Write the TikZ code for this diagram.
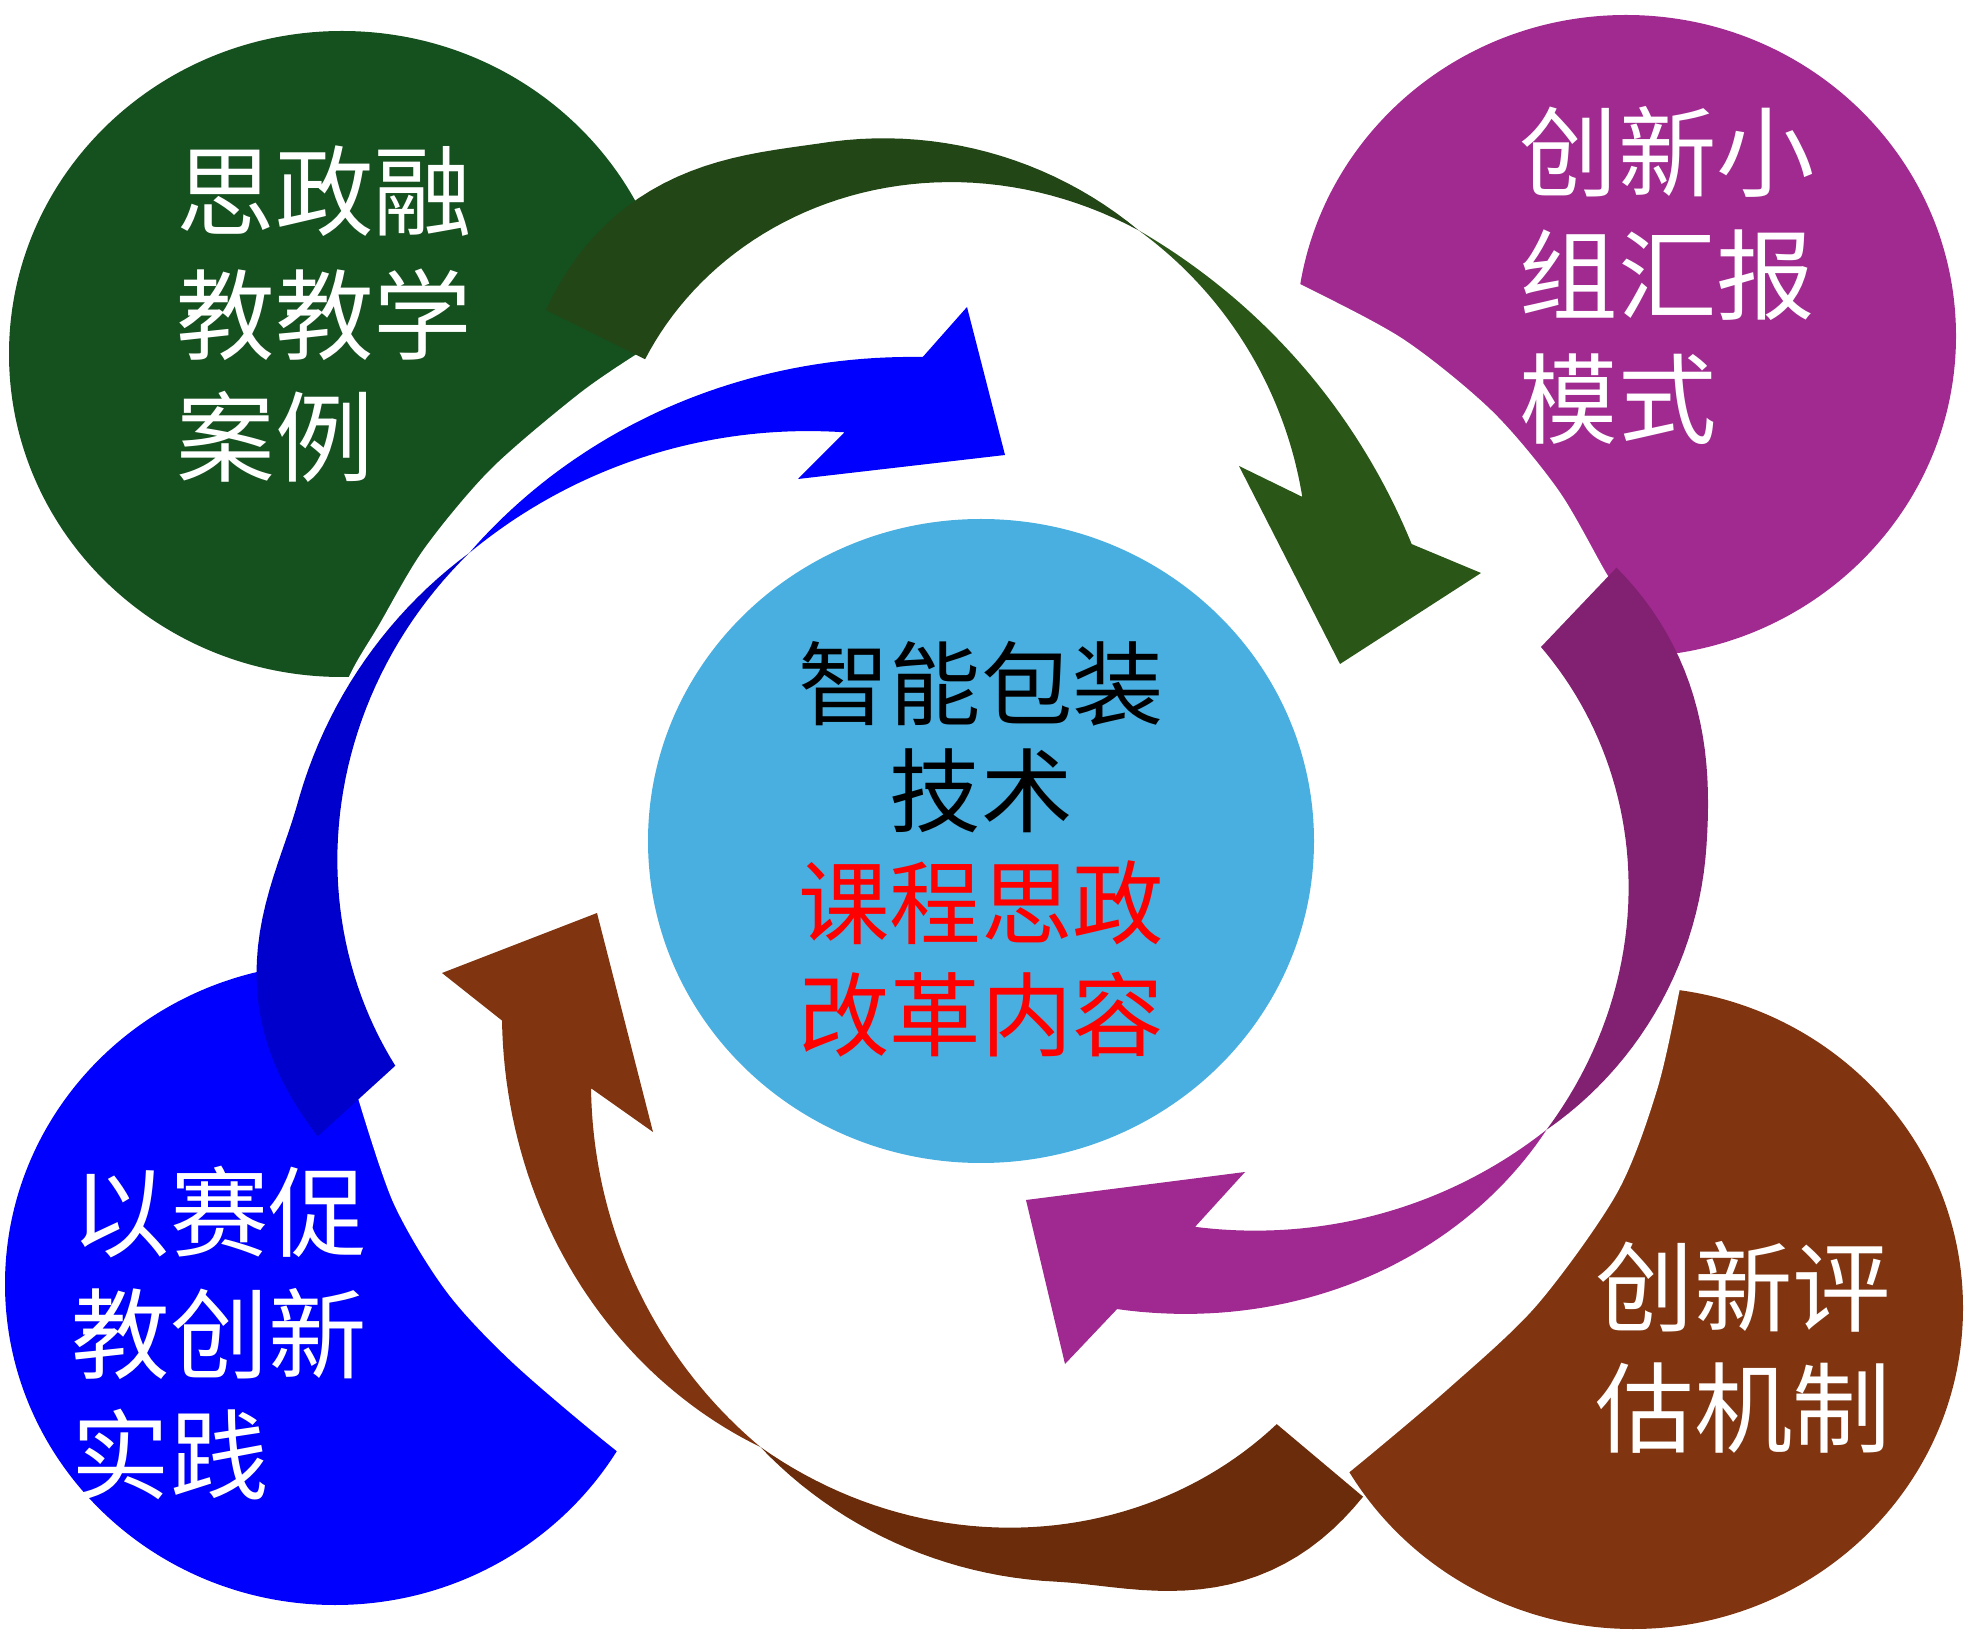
\documentclass[tikz,border=0pt]{standalone}
\usepackage{fontspec}
\newfontfamily\cjk{Noto Sans CJK SC}
\definecolor{gcirc}{RGB}{21,80,31}
\definecolor{gtail}{RGB}{34,70,22}
\definecolor{ghead}{RGB}{42,86,24}
\definecolor{pcirc}{RGB}{160,42,144}
\definecolor{ptail}{RGB}{130,33,114}
\definecolor{phead}{RGB}{160,40,145}
\definecolor{bcirc}{RGB}{0,0,255}
\definecolor{btail}{RGB}{0,0,204}
\definecolor{bhead}{RGB}{0,0,255}
\definecolor{rcirc}{RGB}{128,53,16}
\definecolor{rtail}{RGB}{106,44,10}
\definecolor{rhead}{RGB}{128,53,16}
\definecolor{ccirc}{RGB}{72,175,224}
\definecolor{redtxt}{RGB}{255,0,0}
\tikzset{
  ctext/.style={inner sep=0pt, font=\cjk\fontsize{28}{30}\selectfont, text=white, anchor=base west},
  mtext/.style={inner sep=0pt, font=\cjk\fontsize{26}{28}\selectfont, anchor=base},
  pl/.style={variable=\v, domain=0:1, samples=48},
}
\begin{document}
\begin{tikzpicture}[x=0.01cm,y=-0.01cm,
  declare function={
    Lq(\ks,\ka,\kb,\kc)=\ka*(1-\ks)*(1-2*\ks)+4*\kb*\ks*(1-\ks)+\kc*\ks*(2*\ks-1);
    Bm(\ks,\ke)=max(0,1-(\ks-\ke)*(\ks-\ke)/0.1024);
    Rf(\ks,\ka,\kb,\kc,\kd,\ke)=Lq(\ks,\ka,\kb,\kc)+\kd*Bm(\ks,\ke)*Bm(\ks,\ke);
  }]
\useasboundingbox (0,0) rectangle (1969,1634);
% corner circles
\fill[gcirc] (342,354) ellipse [x radius=333, y radius=323];
\fill[pcirc] (1626,336) ellipse [x radius=330, y radius=321];
\fill[bcirc] (335,1284) ellipse [x radius=330, y radius=321];
\fill[rcirc] (1633,1308) ellipse [x radius=330, y radius=321];
% white cuts
\fill[white] (600,300) -- plot[smooth] coordinates {(640,352) (580,393) (491,469) (424,549) (379,625) (348,679) (320,760)} -- (700,800) -- (800,250) -- cycle;
\fill[white] plot[smooth] coordinates {(1240,255) (1298,283) (1403,339) (1492,411) (1559,491) (1608,576) (1625,595)} -- (1560,660) -- (1500,700) -- (1150,700) -- (1150,250) -- cycle;
\fill[white] plot[smooth] coordinates {(1690,930) (1680,988) (1657,1090) (1617,1193) (1537,1305) (1448,1389) (1347,1474) (1320,1492)} -- (1200,1400) -- (1300,950) -- cycle;
\fill[white] (320,930) -- plot[smooth] coordinates {(355,1088) (393,1202) (446,1291) (513,1363) (618,1452) (700,1510)} -- (900,1300) -- (600,880) -- cycle;
% green arrow (centre 880,560)
\fill[gtail] plot[pl] ({880+Rf(\v,408,421,419,20,0.18)*cos(-143.2+91.3*\v)},{560+Rf(\v,408,421,419,20,0.18)*sin(-143.2+91.3*\v)})
  -- plot[pl] ({880+Lq(\v,419,364,309)*cos(-51.9-87.6*\v)},{560+Lq(\v,419,364,309)*sin(-51.9-87.6*\v)}) -- cycle;
\fill[ghead] plot[pl] ({880+Lq(\v,419,460,532)*cos(-51.9+50.2*\v)},{560+Lq(\v,419,460,532)*sin(-51.9+50.2*\v)})
  -- (1481,573) -- (1340,664) -- (1239,466)
  -- plot[pl] ({880+Lq(\v,427,424,419)*cos(-8.5-43.4*\v)},{560+Lq(\v,427,424,419)*sin(-8.5-43.4*\v)}) -- cycle;
% purple arrow (centre 1299,822)
\fill[ptail] plot[pl] ({1299+Rf(\v,402,408,395,8,0.15)*cos(-38.7+89.9*\v)},{822+Rf(\v,402,408,395,8,0.15)*sin(-38.7+89.9*\v)})
  -- plot[pl] ({1299+Lq(\v,395,332,298.6)*cos(51.2-87.1*\v)},{822+Lq(\v,395,332,298.6)*sin(51.2-87.1*\v)}) -- cycle;
\fill[phead] plot[pl] ({1299+Lq(\v,395,459,520)*cos(51.2+59.3*\v)},{822+Lq(\v,395,459,520)*sin(51.2+59.3*\v)})
  -- (1065,1364) -- (1026,1200) -- (1245,1172)
  -- plot[pl] ({1299+Lq(\v,418,400,395)*cos(104.4-53.2*\v)},{822+Lq(\v,418,400,395)*sin(104.4-53.2*\v)}) -- cycle;
% brown arrow (centre 1075,1106)
\fill[rtail] plot[pl] ({1075+Rf(\v,470,476,464,30,0.17)*cos(53.6+79.1*\v)},{1106+Rf(\v,470,476,464,30,0.17)*sin(53.6+79.1*\v)})
  -- plot[pl] ({1075+Lq(\v,464,422.5,376.7)*cos(132.7-75.1*\v)},{1106+Lq(\v,464,422.5,376.7)*sin(132.7-75.1*\v)}) -- cycle;
\fill[rhead] plot[pl] ({1075+Lq(\v,464,527,579.4)*cos(132.7+55.8*\v)},{1106+Lq(\v,464,527,579.4)*sin(132.7+55.8*\v)})
  -- (442,973) -- (597,913) -- (653,1132)
  -- plot[pl] ({1075+Lq(\v,484.3,474,464)*cos(182.1-49.4*\v)},{1106+Lq(\v,484.3,474,464)*sin(182.1-49.4*\v)}) -- cycle;
% blue arrow (centre 779,930)
\fill[btail] plot[pl] ({779+Rf(\v,495,498,488,28,0.2)*cos(155.9+74.7*\v)},{930+Rf(\v,495,498,488,28,0.2)*sin(155.9+74.7*\v)})
  -- plot[pl] ({779+Lq(\v,488,455,407)*cos(230.6-70.1*\v)},{930+Lq(\v,488,455,407)*sin(230.6-70.1*\v)}) -- cycle;
\fill[bhead] plot[pl] ({779+Lq(\v,488,533,590.8)*cos(230.6+53.5*\v)},{930+Lq(\v,488,533,590.8)*sin(230.6+53.5*\v)})
  -- (967,307) -- (1005,455) -- (798,479)
  -- plot[pl] ({779+Lq(\v,502,492,488)*cos(277.5-46.9*\v)},{930+Lq(\v,502,492,488)*sin(277.5-46.9*\v)}) -- cycle;
% center circle
\fill[ccirc] (981,841) ellipse [x radius=333, y radius=322];
% texts
\node[ctext] (g1) at (176,229) {思政融};
\node[ctext] (g2) at (176,353) {教教学};
\node[ctext] (g3) at (176,475) {案例};
\node[ctext] (p1) at (1519,190) {创新小};
\node[ctext] (p2) at (1519,313) {组汇报};
\node[ctext] (p3) at (1519,437) {模式};
\node[ctext] (b1) at (71,1249) {以赛促};
\node[ctext] (b2) at (71,1371) {教创新};
\node[ctext] (b3) at (71,1492) {实践};
\node[ctext] (r1) at (1595,1324) {创新评};
\node[ctext] (r2) at (1595,1445) {估机制};
\node[mtext, text=black] (c1) at (981,719) {智能包装};
\node[mtext, text=black] (c2) at (981,826) {技术};
\node[mtext, text=redtxt] (c3) at (981,938) {课程思政};
\node[mtext, text=redtxt] (c4) at (981,1049) {改革内容};
\end{tikzpicture}
\end{document}
